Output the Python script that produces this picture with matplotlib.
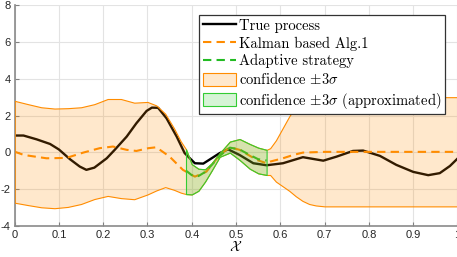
import matplotlib
matplotlib.use('Agg')
import matplotlib.pyplot as plt

plt.rcParams['mathtext.fontset'] = 'cm'
plt.rcParams['font.family'] = ['Liberation Sans', 'DejaVu Sans']

# true process
true_x = [0, 0.02, 0.05, 0.08, 0.10, 0.125, 0.147, 0.162, 0.18, 0.208, 0.226, 0.253,
          0.275, 0.298, 0.31, 0.324, 0.343, 0.366, 0.384, 0.407, 0.426, 0.463, 0.482,
          0.508, 0.539, 0.569, 0.606, 0.651, 0.697, 0.727, 0.764, 0.787, 0.825, 0.862,
          0.90, 0.934, 0.96, 0.983, 1.0]
true_y = [0.91, 0.91, 0.70, 0.45, 0.15, -0.38, -0.78, -0.96, -0.84, -0.33, 0.13, 0.85,
          1.58, 2.25, 2.43, 2.42, 1.85, 0.85, -0.05, -0.60, -0.62, -0.05, 0.16,
          -0.15, -0.60, -0.71, -0.60, -0.27, -0.46, -0.24, 0.07, 0.09, -0.20, -0.69,
          -1.07, -1.25, -1.14, -0.75, -0.35]

# Kalman based Alg.1 mean
kal_x = [0, 0.021, 0.072, 0.117, 0.155, 0.192, 0.222, 0.253, 0.275, 0.302, 0.32, 0.35,
         0.38, 0.407, 0.433, 0.463, 0.486, 0.508, 0.547, 0.569, 0.577, 0.606, 0.629,
         0.651, 0.70, 1.0]
kal_y = [0.03, -0.15, -0.33, -0.31, -0.02, 0.22, 0.31, 0.13, 0.07, 0.22, 0.27, -0.24,
         -0.96, -1.33, -1.06, -0.15, 0.27, 0.13, -0.42, -0.60, -0.51, -0.33, -0.15,
         -0.02, 0.02, 0.02]

# adaptive strategy (green region)
grn_x = [0.387, 0.40, 0.415, 0.43, 0.445, 0.463, 0.486, 0.508, 0.531, 0.55, 0.569]
grn_mean = [-1.0, -1.25, -1.3, -1.08, -0.7, -0.2, 0.25, 0.15, -0.15, -0.38, -0.45]
grn_hi = [0.16, -0.65, -0.9, -0.93, -0.6, -0.05, 0.58, 0.72, 0.45, 0.25, 0.13]
grn_lo = [-2.28, -2.30, -2.10, -1.60, -1.00, -0.25, -0.02, -0.42, -0.90, -1.15, -1.24]

# +-3 sigma band of Kalman (left part / right part)
left_x = [0, 0.03, 0.06, 0.09, 0.12, 0.15, 0.18, 0.21, 0.24, 0.27, 0.30, 0.32, 0.34,
          0.36, 0.375]
left_hi = [2.80, 2.62, 2.45, 2.38, 2.40, 2.45, 2.62, 2.90, 2.90, 2.70, 2.74, 2.55, 2.10,
           1.30, 0.60]
left_lo = [-2.75, -2.88, -3.0, -3.05, -2.98, -2.82, -2.55, -2.38, -2.50, -2.56, -2.30,
           -2.08, -1.90, -2.05, -2.20]
right_x = [0.577, 0.59, 0.605, 0.62, 0.635, 0.65, 0.665, 0.68, 0.70, 1.0]
right_hi = [0.22, 0.65, 1.30, 1.95, 2.50, 2.85, 3.0, 3.0, 3.0, 3.0]
right_lo = [-1.24, -1.60, -1.85, -2.10, -2.40, -2.65, -2.82, -2.90, -2.95, -2.95]

band_x = left_x + grn_x + right_x
band_hi = left_hi + grn_hi + right_hi
band_lo = left_lo + grn_lo + right_lo

orange = '#ff8c00'
green = '#33cc33'

fig = plt.figure(figsize=(4.57, 2.57), dpi=100)
ax = fig.add_axes([0.032, 0.122, 0.969, 0.857])

ax.grid(True, color='#e3e3e3', linewidth=0.8)
ax.set_axisbelow(True)

l1, = ax.plot(true_x, true_y, color='black', lw=1.7, label='True process')
l2, = ax.plot(kal_x, kal_y, color=orange, lw=1.5, ls=(0, (4, 2.5)), label='Kalman based Alg.1')
l3, = ax.plot(grn_x, grn_mean, color='#22bb22', lw=1.5, ls=(0, (4, 2.5)), label='Adaptive strategy')
f1 = ax.fill_between(band_x, band_lo, band_hi, facecolor=(1, 0.55, 0, 0.2), edgecolor=orange,
                     lw=0.8, zorder=3, label=r'confidence $\pm 3\sigma$')
f2 = ax.fill_between(grn_x, grn_lo, grn_hi, facecolor=(0.2, 0.8, 0.2, 0.2), edgecolor=green,
                     lw=0.8, zorder=3, label=r'confidence $\pm 3\sigma$ (approximated)')

ax.set_xlim(0, 1)
ax.set_ylim(-4, 8)
ax.set_xticks([0, 0.1, 0.2, 0.3, 0.4, 0.5, 0.6, 0.7, 0.8, 0.9, 1])
ax.set_xticklabels(['0', '0.1', '0.2', '0.3', '0.4', '0.5', '0.6', '0.7', '0.8', '0.9', '1'])
ax.set_yticks([-4, -2, 0, 2, 4, 6, 8])
ax.set_yticklabels(['-4', '-2', '0', '2', '4', '6', '8'])
ax.tick_params(direction='in', length=3, width=0.8, colors='#808080', labelcolor='#262626',
               labelsize=8, pad=3)
for s in ['top', 'right']:
    ax.spines[s].set_visible(False)
for s in ['left', 'bottom']:
    ax.spines[s].set_color('#8a8a8a')
    ax.spines[s].set_linewidth(1.2)
ax.set_xlabel(r'$\mathcal{X}$', fontsize=10, labelpad=0)

leg = ax.legend(handles=[l1, l2, l3, f1, f2], loc='upper left',
                bbox_to_anchor=(0.417, 0.958), prop={'family': 'cmr10', 'size': 10.5},
                handlelength=2.3, handleheight=1.0, handletextpad=0.2, labelspacing=0.22,
                borderpad=0.25, borderaxespad=0, fancybox=False, framealpha=1)
leg.set_zorder(5)
leg.get_frame().set_edgecolor('#333333')
leg.get_frame().set_linewidth(0.9)

fig.savefig('out.png', dpi=100)
